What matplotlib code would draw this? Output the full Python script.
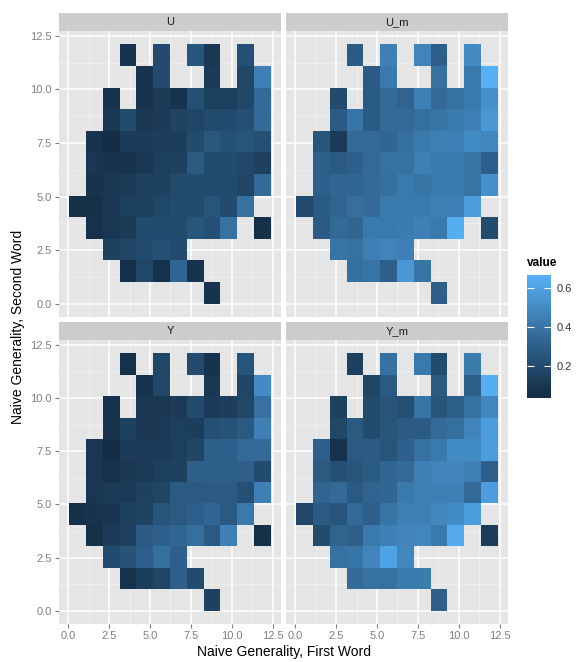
import numpy as np
import matplotlib
matplotlib.use("Agg")
import matplotlib.pyplot as plt
from matplotlib.colors import ListedColormap
from matplotlib.ticker import MultipleLocator, FormatStrFormatter

plt.rcParams['font.family'] = ['Liberation Sans', 'DejaVu Sans']

_ = np.nan

panels = ['U', 'U_m', 'Y', 'Y_m']

# rows listed from top (second word ~11) to bottom (~0), columns first word 0..11
u_vals = [
    [_, _, _, .08, _, .20, _, .25, .10, _, .22, _],
    [_, _, _, _, .08, .20, _, _, .12, _, .18, .45],
    [_, _, .08, _, .08, .12, .08, .22, .14, .14, .18, .35],
    [_, _, .10, .20, .10, .12, .16, .17, .20, .20, .22, .35],
    [_, .08, .05, .12, .12, .13, .13, .20, .26, .23, .25, .22],
    [_, .10, .08, .08, .10, .14, .15, .27, .20, .20, .18, .15],
    [_, .08, .10, .11, .15, .15, .20, .20, .20, .20, .17, .35],
    [.06, .06, .10, .14, .15, .18, .20, .20, .25, .20, .38, _],
    [_, .07, .10, .12, .20, .20, .20, .25, .22, .38, _, .06],
    [_, _, .15, .17, .20, .22, .20, _, _, _, _, _],
    [_, _, _, .06, .18, .07, .33, .08, _, _, _, _],
    [_, _, _, _, _, _, _, _, .08, _, _, _],
]

u_m_vals = [
    [_, _, _, .28, _, .45, _, .47, .30, _, .50, _],
    [_, _, _, _, .28, .42, _, _, .38, _, .42, .66],
    [_, _, .20, _, .28, .35, .32, .45, .35, .38, .42, .52],
    [_, _, .28, .40, .28, .35, .35, .37, .40, .42, .45, .55],
    [_, .25, .12, .35, .35, .33, .37, .42, .45, .45, .50, .48],
    [_, .30, .27, .30, .35, .38, .38, .45, .42, .42, .40, .30],
    [_, .30, .33, .33, .35, .37, .42, .40, .42, .42, .40, .52],
    [.20, .28, .32, .37, .35, .42, .42, .42, .45, .45, .58, _],
    [_, .28, .35, .33, .42, .42, .43, .45, .42, .65, _, .20],
    [_, _, .40, .38, .45, .47, .45, _, _, _, _, _],
    [_, _, _, .37, .40, .30, .55, .40, _, _, _, _],
    [_, _, _, _, _, _, _, _, .30, _, _, _],
]

y_vals = [
    [_, _, _, .07, _, .18, _, .20, .08, _, .25, _],
    [_, _, _, _, .07, .18, _, _, .10, _, .17, .50],
    [_, _, .07, _, .10, .10, .12, .20, .12, .13, .18, .38],
    [_, _, .08, .15, .10, .11, .14, .13, .22, .24, .27, .45],
    [_, .10, .05, .12, .12, .12, .14, .17, .30, .30, .35, .35],
    [_, .10, .07, .10, .11, .14, .15, .30, .30, .30, .30, .20],
    [_, .10, .12, .11, .15, .17, .27, .27, .28, .28, .22, .45],
    [.06, .08, .09, .15, .16, .25, .27, .30, .33, .27, .42, _],
    [_, .06, .12, .15, .28, .30, .33, .37, .27, .45, _, .06],
    [_, _, .20, .24, .30, .37, .30, _, _, _, _, _],
    [_, _, _, .07, .13, .17, .30, .20, _, _, _, _],
    [_, _, _, _, _, _, _, _, .15, _, _, _],
]

y_m_vals = [
    [_, _, _, .15, _, .38, _, .42, .20, _, .43, _],
    [_, _, _, _, .17, .28, _, _, .27, _, .30, .65],
    [_, _, .15, _, .20, .25, .22, .40, .25, .30, .38, .48],
    [_, _, .18, .27, .20, .25, .28, .28, .35, .37, .47, .58],
    [_, .30, .07, .27, .28, .25, .30, .38, .42, .50, .50, .58],
    [_, .27, .22, .25, .28, .33, .35, .45, .47, .47, .45, .30],
    [_, .32, .35, .27, .32, .33, .42, .45, .45, .45, .35, .58],
    [.18, .28, .25, .35, .30, .40, .45, .45, .48, .50, .58, _],
    [_, .20, .32, .30, .42, .45, .47, .48, .42, .63, _, .13],
    [_, _, .38, .40, .47, .60, .48, _, _, _, _, _],
    [_, _, _, .35, .38, .38, .43, .43, _, _, _, _],
    [_, _, _, _, _, _, _, _, .30, _, _, _],
]

grids = {'U': u_vals, 'U_m': u_m_vals, 'Y': y_vals, 'Y_m': y_m_vals}
legend_ticks = [0.2, 0.4, 0.6]

x_edges = np.linspace(0.05, 12.4, 13)
y_edges = np.linspace(0.0, 12.1, 13)


# ggplot-style gradient: interpolate #132B43 -> #56B1F7 in CIELAB
def hex_to_rgb(h):
    return np.array([int(h[i:i + 2], 16) / 255 for i in (1, 3, 5)])


M = np.array([[0.4124, 0.3576, 0.1805], [0.2126, 0.7152, 0.0722], [0.0193, 0.1192, 0.9505]])
WHITE = np.array([0.95047, 1.0, 1.08883])


def rgb_to_lab(c):
    lin = np.where(c <= 0.04045, c / 12.92, ((c + 0.055) / 1.055) ** 2.4)
    xyz = M @ lin / WHITE
    f = np.where(xyz > 0.008856, np.cbrt(xyz), 7.787 * xyz + 16 / 116)
    return np.array([116 * f[1] - 16, 500 * (f[0] - f[1]), 200 * (f[1] - f[2])])


def lab_to_rgb(lab):
    fy = (lab[0] + 16) / 116
    fx = fy + lab[1] / 500
    fz = fy - lab[2] / 200
    f = np.array([fx, fy, fz])
    xyz = np.where(f ** 3 > 0.008856, f ** 3, (f - 16 / 116) / 7.787) * WHITE
    lin = np.clip(np.linalg.solve(M, xyz), 0, 1)
    return np.where(lin <= 0.0031308, 12.92 * lin, 1.055 * lin ** (1 / 2.4) - 0.055)


lab_lo, lab_hi = rgb_to_lab(hex_to_rgb('#132B43')), rgb_to_lab(hex_to_rgb('#56B1F7'))
ramp = [np.clip(lab_to_rgb(lab_lo + t * (lab_hi - lab_lo)), 0, 1) for t in np.linspace(0, 1, 256)]
cmap = ListedColormap(ramp)
vmin, vmax = 0.035, 0.665

W, H = 577, 662
fig = plt.figure(figsize=(W / 100, H / 100), dpi=100)


def px(l, t, r, b):
    return [l / W, 1 - b / H, (r - l) / W, (b - t) / H]


boxes = {'U': (59, 31, 281, 317), 'U_m': (286, 31, 508, 317),
         'Y': (59, 340, 281, 624), 'Y_m': (286, 340, 508, 624)}
strip_h = 18
tick_grey = '#7F7F7F'

mesh = None
for name in panels:
    l, t, r, b = boxes[name]
    ax = fig.add_axes(px(l, t, r, b))
    ax.set_facecolor('#E5E5E5')
    z = np.ma.masked_invalid(np.array(grids[name])[::-1])
    mesh = ax.pcolormesh(x_edges, y_edges, z, cmap=cmap, vmin=vmin, vmax=vmax, zorder=2)
    ax.set_xlim(-0.57, 13.02)
    ax.set_ylim(-0.62, 12.72)
    ax.xaxis.set_major_locator(MultipleLocator(2.5))
    ax.yaxis.set_major_locator(MultipleLocator(2.5))
    ax.xaxis.set_minor_locator(MultipleLocator(1.25))
    ax.yaxis.set_minor_locator(MultipleLocator(1.25))
    ax.xaxis.set_major_formatter(FormatStrFormatter('%.1f'))
    ax.yaxis.set_major_formatter(FormatStrFormatter('%.1f'))
    ax.grid(which='major', color='white', lw=1.1, zorder=0)
    ax.grid(which='minor', color='#F2F2F2', lw=0.5, zorder=0)
    ax.set_axisbelow(True)
    for s in ax.spines.values():
        s.set_visible(False)
    ax.tick_params(which='minor', length=0)
    ax.tick_params(which='major', length=3, color=tick_grey, labelcolor=tick_grey,
                   labelsize=8, width=0.8, pad=2)
    if name in ('U', 'U_m'):
        ax.tick_params(axis='x', length=0, labelbottom=False)
    if name in ('U_m', 'Y_m'):
        ax.tick_params(axis='y', length=0, labelleft=False)

    sax = fig.add_axes(px(l, t - strip_h, r, t))
    sax.set_facecolor('#CCCCCC')
    sax.set_xticks([])
    sax.set_yticks([])
    for s in sax.spines.values():
        s.set_visible(False)
    sax.text(0.5, 0.5, name, ha='center', va='center', fontsize=8, color='#1a1a1a',
             transform=sax.transAxes)

fig.text(284 / W, 1 - 652 / H, 'Naive Generality, First Word', ha='center', va='center',
         fontsize=10)
fig.text(18 / W, 1 - 327 / H, 'Naive Generality, Second Word', ha='center', va='center',
         fontsize=10, rotation=90)

cax = fig.add_axes(px(527, 275, 551, 398))
cb = fig.colorbar(mesh, cax=cax, ticks=legend_ticks)
cb.outline.set_visible(False)
cax.tick_params(direction='in', color='white', length=5, width=0.8, left=True, right=True,
                labelsize=8, labelcolor='#333333', pad=4)
cax.set_yticklabels([f'{v:.1f}' for v in legend_ticks])
fig.text(527 / W, 1 - 263 / H, 'value', ha='left', va='center', fontsize=8.5,
         fontweight='bold')

fig.savefig('out.png', dpi=100, facecolor='white')
